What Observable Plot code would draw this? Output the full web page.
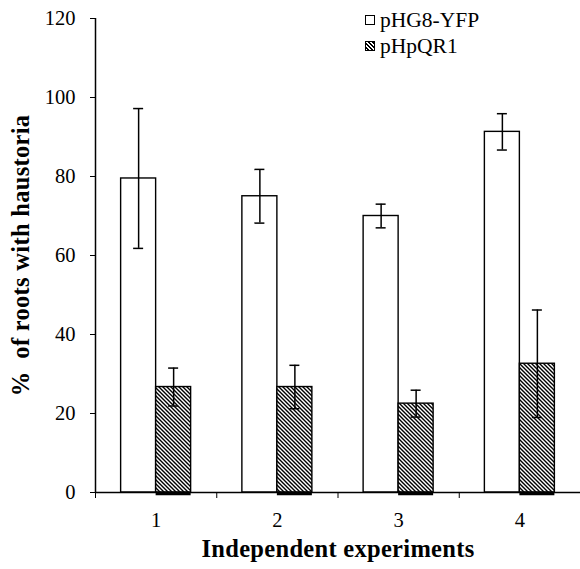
<!DOCTYPE html>
<html>
<head>
<meta charset="utf-8">
<script src="https://cdn.jsdelivr.net/npm/d3@7"></script>
<script src="https://cdn.jsdelivr.net/npm/@observablehq/plot@0.6"></script>
<style>
  body { margin: 0; background: white; }
  #wrap { position: relative; width: 580px; height: 569px; font-family: "Liberation Serif", "Times New Roman", serif; }
  .legend { position: absolute; left: 365px; font-size: 21.5px; line-height: 22px; color: #000; white-space: nowrap; }
  .legend .sw { display: inline-block; box-sizing: border-box; width: 10px; height: 10px; border: 1.3px solid #000; vertical-align: 2px; margin-right: 5px; background: #fff; }
  .legend .hatch { background: repeating-linear-gradient(45deg, #fff 0 1.2px, #000 1.2px 2.6px, #fff 2.6px 2.83px); }
  .title-x text, .title-y text { letter-spacing: 0.3px; }
</style>
</head>
<body>
<div id="wrap">
  <div id="chart"></div>
  <div class="legend" style="top:9px;"><span class="sw"></span>pHG8-YFP</div>
  <div class="legend" style="top:35px;"><span class="sw hatch"></span>pHpQR1</div>
</div>
<script>
// ---- data ----
const experiments = [1, 2, 3, 4];
const yfpValues = [79.5, 75.0, 70.0, 91.3];
const yfpErrors = [17.7, 6.8, 3.0, 4.6];
const qr1Values = [26.7, 26.7, 22.5, 32.6];
const qr1Errors = [4.8, 5.5, 3.4, 13.6];
const yTicks = [0, 20, 40, 60, 80, 100, 120];
const yLabel = "%  of roots with haustoria";
const xLabel = "Independent experiments";

const data = experiments.map((e, i) => ({
  exp: e,
  yfp: yfpValues[i], yfpErr: yfpErrors[i],
  qr1: qr1Values[i], qr1Err: qr1Errors[i]
}));
const boundaries = [experiments[0] - 0.5, ...experiments.map(e => e + 0.5)];

const half = 121.25 / 2;
const barW = 35;
const off = barW / 2;
const capHalf = 5;

const band1 = d => d.exp - 0.5;
const band2 = d => d.exp + 0.5;

const chart = Plot.plot({
  width: 580,
  height: 569,
  marginTop: 18,
  marginBottom: 77,
  marginLeft: 95,
  marginRight: 0,
  style: { fontFamily: "Liberation Serif, Times New Roman, serif", fontSize: "20.5px", color: "#000", background: "white" },
  x: { type: "linear", domain: [boundaries[0], boundaries[boundaries.length - 1]], axis: null },
  y: { domain: [0, 120], axis: null },
  marks: [
    // pHG8-YFP bars
    Plot.rect(data, { x1: band1, x2: band2, y1: 0, y2: "yfp", fill: "white", stroke: "black", strokeWidth: 1.4,
      insetLeft: half - barW, insetRight: half }),
    // pHpQR1 bars (hatched)
    Plot.rect(data, { x1: band1, x2: band2, y1: 0, y2: "qr1", fill: "url(#hatch)", stroke: "black", strokeWidth: 1.4,
      insetLeft: half, insetRight: half - barW }),
    Plot.ruleY(data, { x1: band1, x2: band2, y: 0, stroke: "black", strokeWidth: 3.5,
      insetLeft: half, insetRight: half - barW, dy: 1 }),
    // error bars YFP
    Plot.ruleX(data, { x: "exp", y1: d => d.yfp - d.yfpErr, y2: d => d.yfp + d.yfpErr, dx: -off, strokeWidth: 1.5 }),
    Plot.ruleY(data, { x1: "exp", x2: "exp", y: d => d.yfp + d.yfpErr, dx: -off, insetLeft: -capHalf, insetRight: -capHalf, strokeWidth: 1.5 }),
    Plot.ruleY(data, { x1: "exp", x2: "exp", y: d => d.yfp - d.yfpErr, dx: -off, insetLeft: -capHalf, insetRight: -capHalf, strokeWidth: 1.5 }),
    // error bars QR1
    Plot.ruleX(data, { x: "exp", y1: d => d.qr1 - d.qr1Err, y2: d => d.qr1 + d.qr1Err, dx: off, strokeWidth: 1.5 }),
    Plot.ruleY(data, { x1: "exp", x2: "exp", y: d => d.qr1 + d.qr1Err, dx: off, insetLeft: -capHalf, insetRight: -capHalf, strokeWidth: 1.5 }),
    Plot.ruleY(data, { x1: "exp", x2: "exp", y: d => d.qr1 - d.qr1Err, dx: off, insetLeft: -capHalf, insetRight: -capHalf, strokeWidth: 1.5 }),
    // axes
    Plot.ruleY([0], { strokeWidth: 1.5 }),
    Plot.ruleX([boundaries[0]], { strokeWidth: 1.5 }),
    Plot.axisY({ ticks: yTicks, tickSize: 5, tickPadding: 15, fontSize: 20.5, tickFormat: d => String(d), label: null }),
    Plot.axisX({ ticks: boundaries, tickSize: 6, tickFormat: () => "", label: null }),
    Plot.axisX({ ticks: experiments, tickSize: 0, tickPadding: 20, fontSize: 20.5, tickFormat: d => String(d), label: null }),
    // titles
    Plot.text([yLabel], { frameAnchor: "left", textAnchor: "middle", rotate: -90, dx: -74, fontWeight: "bold", fontSize: 24.5, className: "title-y" }),
    Plot.text([xLabel], { frameAnchor: "bottom", textAnchor: "middle", dy: 64, fontWeight: "bold", fontSize: 24.5, className: "title-x" })
  ]
});

// hatch pattern definition (diagonal "\" lines)
const svg = d3.select(chart);
const defs = svg.insert("defs", ":first-child");
const pat = defs.append("pattern")
  .attr("id", "hatch")
  .attr("patternUnits", "userSpaceOnUse")
  .attr("width", 4).attr("height", 4);
pat.append("rect").attr("width", 4).attr("height", 4).attr("fill", "white");
pat.append("path")
  .attr("d", "M-1,-1L5,5M-1,3L1,5M3,-1L5,1")
  .attr("stroke", "black").attr("stroke-width", 1.4).attr("fill", "none");

document.getElementById("chart").appendChild(chart);
</script>
</body>
</html>
